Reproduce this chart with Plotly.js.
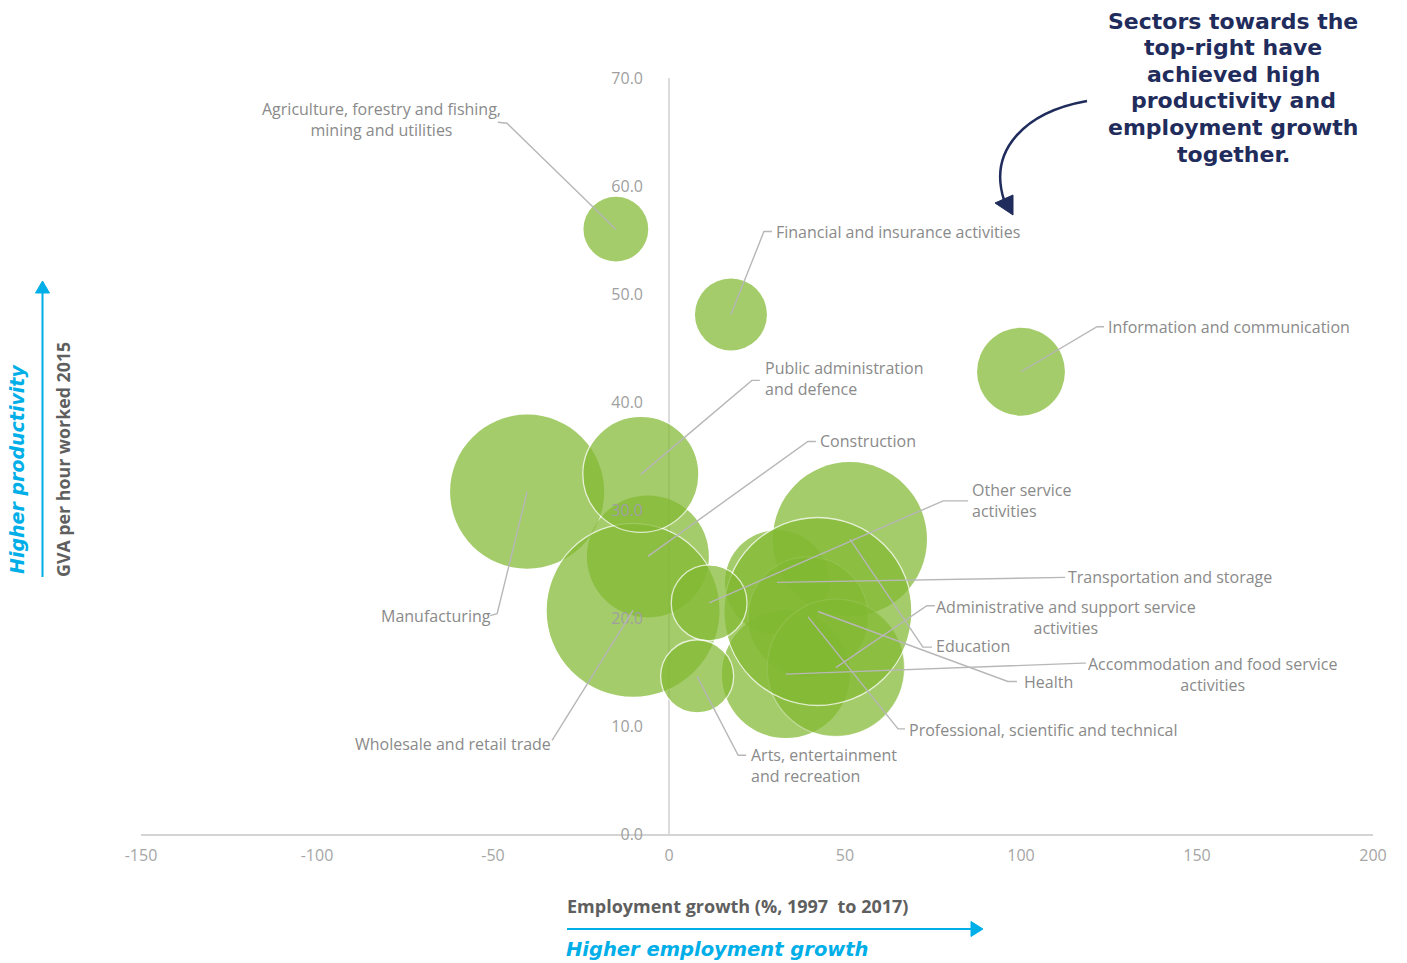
<!DOCTYPE html>
<html>
<head>
<meta charset="utf-8">
<script src="https://cdn.plot.ly/plotly-3.0.1.min.js"></script>
<style>html,body{margin:0;padding:0;background:#fff;}#chart{width:1407px;height:963px;}</style>
</head>
<body>
<div id="chart"></div>
<script>
// ---------- DATA ----------
const sectors = [
  "Manufacturing",
  "Construction",
  "Wholesale and retail trade",
  "Public administration<br>and defence",
  "Agriculture, forestry and fishing,<br>mining and utilities",
  "Financial and insurance activities",
  "Information and communication",
  "Education",
  "Transportation and storage",
  "Professional, scientific and technical",
  "Accommodation and food service<br>activities",
  "Administrative and support service<br>activities",
  "Health",
  "Other service<br>activities",
  "Arts, entertainment<br>and recreation"
];
// Employment growth (%, 1997 to 2017)
const employmentGrowth = [-40.3, -6.0, -10.2, -8.0, -15.1, 17.6, 100.0, 51.4, 30.7, 39.5, 33.2, 47.4, 42.3, 11.4, 8.0];
// GVA per hour worked 2015
const gvaPerHour = [31.7, 25.7, 20.7, 33.3, 56.0, 48.1, 42.8, 27.3, 23.3, 20.1, 14.8, 15.4, 20.6, 21.4, 14.6];
// Bubble size: employment (millions)
const employment = [2.89, 1.81, 3.69, 1.64, 0.51, 0.63, 0.94, 2.89, 1.32, 1.75, 1.99, 2.29, 4.30, 0.70, 0.65];

const xTickVals = [-150, -100, -50, 0, 50, 100, 150, 200];
const yTickVals = [0, 10, 20, 30, 40, 50, 60, 70];

const noteLines = ["Sectors towards the", "top-right have", "achieved high", "productivity and", "employment growth", "together."];

// ---------- STYLE / LAYOUT (not data) ----------
const W = 1407, H = 963;
const M = {l: 141, r: 34, t: 78, b: 129};
const plotW = W - M.l - M.r, plotH = H - M.t - M.b;
const px = p => (p - M.l) / plotW;           // page px -> paper x
const py = p => (H - M.b - p) / plotH;        // page px -> paper y

const outline = ["rgba(0,0,0,0)", "rgba(0,0,0,0)", "#ffffff", "#ffffff", "rgba(0,0,0,0)", "rgba(0,0,0,0)",
  "rgba(0,0,0,0)", "rgba(0,0,0,0)", "rgba(0,0,0,0)", "rgba(255,255,255,0.45)", "rgba(0,0,0,0)",
  "rgba(255,255,255,0.45)", "#ffffff", "#ffffff", "#ffffff"];

// leader line elbows [dx1,dy1,dx2,dy2] (screen px from bubble centre) and label anchor [tx,ty,xanchor,align]
const leader = [
  [-30, 122, -37, 124], [160, -115, 168, -115], [-81, 130, -81, 130], [111, -94, 119, -94],
  [-109, -106, -118, -107], [33, -83, 41, -83], [76, -45, 83, -45], [73, 108, 82, 108],
  [288, -5, 288, -5], [90, 112, 97, 112], [297, -11, 300, -11], [91, -62, 99, -62],
  [190, 70, 199, 70], [234, -102, 259, -102], [41, 79, 49, 79]
];
const labelPos = [
  [-34, 124, "right", "left"], [170, -115, "left", "left"], [-80, 134, "right", "left"], [122, -96, "left", "left"],
  [-113, -110, "right", "center"], [43, -83, "left", "left"], [85, -45, "left", "left"], [84, 107, "left", "left"],
  [289, -5, "left", "left"], [99, 113, "left", "left"], [300, 0, "left", "center"], [98, -50, "left", "center"],
  [204, 70, "left", "left"], [261, -102, "left", "left"], [52, 89, "left", "left"]
];

const maxDiam = 188;
const sizeref = 2 * Math.max(...employment) / (maxDiam * maxDiam);

const trace = {
  type: "scatter",
  mode: "markers",
  x: employmentGrowth,
  y: gvaPerHour,
  text: sectors,
  hoverinfo: "text",
  marker: {
    size: employment,
    sizemode: "area",
    sizeref: sizeref,
    color: "rgb(130,185,50)",
    opacity: 0.72,
    line: {color: outline, width: 1.3}
  },
  showlegend: false
};

const grey = "#b7b7b7";
const shapes = [];
const annotations = [];
for (let i = 0; i < sectors.length; i++) {
  const L = leader[i];
  shapes.push({
    type: "path", xref: "x", yref: "y",
    xsizemode: "pixel", ysizemode: "pixel",
    xanchor: employmentGrowth[i], yanchor: gvaPerHour[i],
    path: `M0,0L${L[0]},${-L[1]}L${L[2]},${-L[3]}`,
    line: {color: grey, width: 1.4}
  });
  const P = labelPos[i];
  annotations.push({
    x: employmentGrowth[i], y: gvaPerHour[i], xref: "x", yref: "y",
    text: sectors[i], showarrow: false,
    xshift: P[0], yshift: -P[1], xanchor: P[2], yanchor: "middle", align: P[3],
    font: {family: "Open Sans", size: 16, color: "#8a8a8a"}
  });
}

const navy = "#1f2c5c";
const cyan = "#00aee8";

// curved arrow (top right)
shapes.push({
  type: "path", xref: "paper", yref: "paper",
  path: `M${px(1087)},${py(101)} C${px(1025)},${py(112)} ${px(988)},${py(150)} ${px(1004)},${py(200)}`,
  line: {color: navy, width: 2.5}
});
shapes.push({
  type: "path", xref: "paper", yref: "paper",
  path: `M${px(1013)},${py(215)} L${px(995)},${py(203)} L${px(1013)},${py(195)} Z`,
  fillcolor: navy, line: {color: navy, width: 1}
});
// vertical cyan arrow
shapes.push({type: "line", xref: "paper", yref: "paper", x0: px(42.5), x1: px(42.5), y0: py(577), y1: py(290),
  line: {color: cyan, width: 2}});
shapes.push({type: "path", xref: "paper", yref: "paper",
  path: `M${px(42.5)},${py(281)} L${px(35.5)},${py(293)} L${px(49.5)},${py(293)} Z`,
  fillcolor: cyan, line: {color: cyan, width: 1}});
// horizontal cyan arrow
shapes.push({type: "line", xref: "paper", yref: "paper", x0: px(567), x1: px(973), y0: py(929), y1: py(929),
  line: {color: cyan, width: 2}});
shapes.push({type: "path", xref: "paper", yref: "paper",
  path: `M${px(983)},${py(929)} L${px(971)},${py(921.5)} L${px(971)},${py(936.5)} Z`,
  fillcolor: cyan, line: {color: cyan, width: 1}});

noteLines.forEach((t, i) => {
  annotations.push({
    xref: "paper", yref: "paper", x: px(1233), y: py(21 + i * 26.6), xanchor: "center", yanchor: "middle",
    showarrow: false, align: "center", text: t,
    font: {family: "DejaVu Sans", size: 22, color: navy, weight: "bold"}
  });
});
annotations.push({
  xref: "paper", yref: "paper", x: px(17), y: py(469), xanchor: "center", yanchor: "middle",
  showarrow: false, textangle: -90, text: "Higher productivity",
  font: {family: "DejaVu Sans", size: 19, color: cyan, weight: "bold", style: "italic"}
});
annotations.push({
  xref: "paper", yref: "paper", x: px(63), y: py(460), xanchor: "center", yanchor: "middle",
  showarrow: false, textangle: -90, text: "GVA per hour worked 2015",
  font: {family: "Open Sans", size: 17.8, color: "#5f5f5f", weight: "bold"}
});
annotations.push({
  xref: "paper", yref: "paper", x: px(565), y: py(906), xanchor: "left", yanchor: "middle",
  showarrow: false, text: "Employment growth (%, 1997\u00a0 to 2017)",
  font: {family: "Open Sans", size: 18, color: "#5f5f5f", weight: "bold"}
});
annotations.push({
  xref: "paper", yref: "paper", x: px(564), y: py(949), xanchor: "left", yanchor: "middle",
  showarrow: false, text: "Higher employment growth",
  font: {family: "DejaVu Sans", size: 19.5, color: cyan, weight: "bold", style: "italic"}
});

const layout = {
  width: W, height: H, autosize: false,
  margin: M,
  paper_bgcolor: "#ffffff", plot_bgcolor: "#ffffff",
  font: {family: "Open Sans", color: "#a6a6a6", size: 16},
  xaxis: {
    range: [-150, 200], tickvals: xTickVals, ticktext: xTickVals.map(String),
    showgrid: false, zeroline: true, zerolinecolor: "#dcdcdc", zerolinewidth: 1.5,
    showline: true, linecolor: "#d4d4d4", linewidth: 1.5,
    ticks: "", ticklabelstandoff: 6,
    tickfont: {family: "Open Sans", size: 16, color: "#a6a6a6"},
    fixedrange: true
  },
  yaxis: {
    range: [0, 70], tickvals: yTickVals, ticktext: yTickVals.map(v => v.toFixed(1)),
    anchor: "free", position: 150 / 350,
    showgrid: false, zeroline: false, showline: false,
    ticks: "", ticklabelstandoff: 26,
    tickfont: {family: "Open Sans", size: 16, color: "#a0a0a0"},
    fixedrange: true
  },
  shapes: shapes,
  annotations: annotations,
  showlegend: false
};

Plotly.newPlot("chart", [trace], layout, {displayModeBar: false, staticPlot: true});
</script>
</body>
</html>
